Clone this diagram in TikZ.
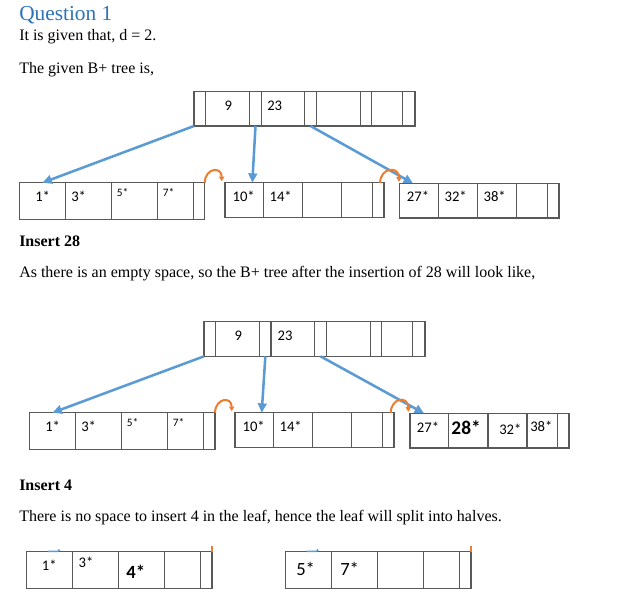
\documentclass[tikz,border=0pt]{standalone}
\usepackage{fontspec}
\setmainfont{Liberation Serif}
\newfontfamily\calibrifont{Carlito}
\usetikzlibrary{fit,arrows.meta}
\definecolor{headblue}{HTML}{2E74B5}
\definecolor{arrowblue}{HTML}{5B9BD5}
\definecolor{arcorange}{HTML}{ED7D31}
\definecolor{boxgray}{HTML}{595959}
\tikzset{
  cellbox/.style={draw=boxgray, line width=0.9pt, inner sep=0pt, outer sep=0pt},
  lbl/.style={inner sep=0pt, anchor=base west, font=\calibrifont\fontsize{11}{13}\selectfont},
  lblsmall/.style={lbl, font=\calibrifont\fontsize{8.5}{10}\selectfont},
  lblbig/.style={lbl, font=\calibrifont\fontsize{14}{16}\selectfont},
  lblbold/.style={lbl, font=\calibrifont\bfseries\fontsize{14.5}{17}\selectfont},
  bodytext/.style={inner sep=0pt, anchor=base west, font=\fontsize{12}{14}\selectfont},
  boldtext/.style={bodytext, font=\bfseries\fontsize{12}{14}\selectfont},
  barrow/.style={draw=arrowblue, line width=1.9pt, -{Triangle[length=7pt,width=6.5pt]}},
  oarc/.style={draw=arcorange, line width=1.5pt, -{Triangle[length=3.5pt,width=4pt]}},
  remblue/.style={draw=arrowblue, line width=1.2pt},
  remorange/.style={draw=arcorange, line width=1pt}
}
\newcommand\cellrow[4]{%
  \foreach \xa/\xb [count=\ci] in {#4} {%
    \node[cellbox, fit={(\xa,#2) (\xb,#3)}] (#1\ci) {};
  }}
\begin{document}
\begin{tikzpicture}[x=0.75pt,y=-0.75pt]
\useasboundingbox (0,0) rectangle (644,601);
\fill[white] (0,0) rectangle (644,601);

% texts
\node[inner sep=0pt, anchor=base west, text=headblue, font=\fontsize{16}{19}\selectfont] (q1) at (19,20.7) {Question 1};
\node[bodytext] (t1) at (19,40.5) {It is given that, d = 2.};
\node[bodytext] (t2) at (19,73) {The given B+ tree is,};
\node[boldtext] (t3) at (19,246.5) {Insert 28};
\node[bodytext] (t4) at (19,277.5) {As there is an empty space, so the B+ tree after the insertion of 28 will look like,};
\node[boldtext] (t5) at (19,490.5) {Insert 4};
\node[bodytext] (t6) at (19,521.5) {There is no space to insert 4 in the leaf, hence the leaf will split into halves.};

% ---------- figure 1 ----------
\cellrow{ta}{91.7}{126}{194/205.7,205.7/249.7,249.7/261.3,261.3/304.7,304.7/316.3,316.3/360.3,360.3/371.7,371.7/402.7,402.7/415}
\cellrow{la}{182.7}{219.3}{19.7/65.3,65.3/111.3,111.3/157.3,157.3/193.3,193.3/204.7}
\cellrow{lb}{182.7}{217.7}{225/263.7,263.7/302.7,302.7/341.7,341.7/372.7,372.7/384}
\cellrow{lc}{183.3}{218}{399.7/438.7,438.7/477.7,477.7/516.7,516.7/547.7,547.7/559}

\node[lbl] (ka1) at (224.3,110) {9};
\node[lbl] (ka2) at (267,110) {23};
\node[lbl] (va1) at (35,201.7) {1*};
\node[lbl] (va2) at (71,201.7) {3*};
\node[lblsmall] (va3) at (116.7,196) {5*};
\node[lblsmall] (va4) at (162.7,196) {7*};
\node[lbl] (vb1) at (232.3,201.7) {10*};
\node[lbl] (vb2) at (269.3,201.7) {14*};
\node[lbl] (vc1) at (406.7,201.7) {27*};
\node[lbl] (vc2) at (444.3,201.7) {32*};
\node[lbl] (vc3) at (483.3,201.7) {38*};

\coordinate (pb) at (252.3,182.7);
\coordinate (pc) at (413,183.3);
\draw[barrow] (ta1.south west) -- (la1.north);
\draw[barrow] (ta3.south) -- (pb);
\draw[barrow] (ta5.south) -- (pc);

\coordinate (oa) at (221.7,181.2);
\coordinate (ob) at (399,181.8);
\draw[oarc] (la5.north east) .. controls +(0.5,-15) and +(0,-15) .. (oa);
\draw[oarc] (380,183) .. controls +(0.5,-16) and +(0,-16) .. (ob);

% ---------- figure 2 ----------
\cellrow{tb}{321.7}{356.3}{204/215.7,215.7/259.7,259.7/271,271/314.7,314.7/326.3,326.3/370.3,370.3/381.7,381.7/412.7,412.7/425}
\cellrow{ld}{412.7}{449.3}{29.7/75.3,75.3/121.3,121.3/167.3,167.3/203.3,203.3/215}
\cellrow{le}{412.7}{447.7}{235/273.7,273.7/312.7,312.7/351.7,351.7/382.7,382.7/394}
\cellrow{lf}{413.3}{448}{410/448.7,448.7/488,488/527,527/557.7,557.7/569}

\node[lbl] (kb1) at (234.3,340) {9};
\node[lbl] (kb2) at (277.3,340) {23};
\node[lbl] (vd1) at (45,431.7) {1*};
\node[lbl] (vd2) at (81,431.7) {3*};
\node[lblsmall] (vd3) at (126.7,426) {5*};
\node[lblsmall] (vd4) at (172.7,426) {7*};
\node[lbl] (ve1) at (242.3,431.7) {10*};
\node[lbl] (ve2) at (279.3,431.7) {14*};
\node[lbl] (vf1) at (416.7,432.3) {27*};
\node[lblbold] (vf2) at (451.2,434.3) {28*};
\node[lbl] (vf3) at (499,434.3) {32*};
\node[lbl] (vf4) at (530,431.7) {38*};

\coordinate (pe) at (261.7,412.7);
\coordinate (pf) at (424,413.3);
\draw[barrow] (tb1.south west) -- (ld1.north);
\draw[barrow] (tb3.south) -- (pe);
\draw[barrow] (tb5.south) -- (pf);

\coordinate (oc) at (231.7,411.2);
\coordinate (od) at (408.3,411.8);
\draw[oarc] (ld5.north east) .. controls +(0.5,-15) and +(0,-15) .. (oc);
\draw[oarc] (390.7,413) .. controls +(0.5,-16) and +(0,-16) .. (od);

% ---------- figure 3 ----------
\cellrow{lg}{551.7}{588.3}{26.7/72.3,72.3/118.3,118.3/164.3,164.3/200.3,200.3/212}
\cellrow{lh}{551.7}{588.3}{285.3/331.3,331.3/377.3,377.3/423.3,423.3/459.3,459.3/471}

\node[lbl] (vg1) at (41.7,570) {1*};
\node[lbl] (vg2) at (78.3,567.3) {3*};
\node[lblbold, font=\calibrifont\bfseries\fontsize{14}{16}\selectfont] (vg3) at (126.2,578.3) {4*};
\node[lblbig] (vh1) at (296,575) {5*};
\node[lblbig] (vh2) at (340,575) {7*};

% small remnants of cut connectors
\draw[remblue] (48,551.3) -- (58,551.3) -- (59.5,549.6);
\draw[remorange] (lg5.north east) -- ++(0,-6);
\draw[remblue] (307,551.3) -- (316.5,551.3) -- (318,549.6);
\draw[remorange] (lh5.north east) -- ++(0,-6);
\end{tikzpicture}
\end{document}
